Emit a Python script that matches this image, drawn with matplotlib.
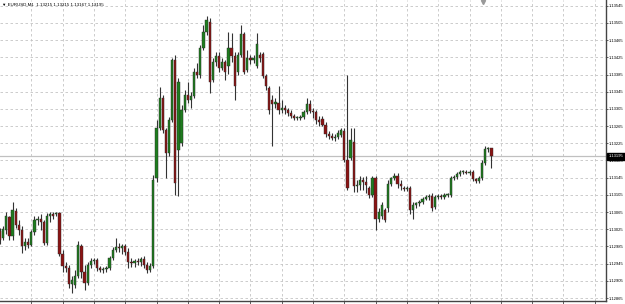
import numpy as np
import matplotlib.pyplot as plt
import matplotlib.transforms as mtransforms

# ── Data: EURUSD M1 candles ───────────────────────────────────────────────────
header = "\u25bc EURUSD,M1  1.13215 1.13215 1.13167 1.13195"

opens = [
    1.13021, 1.13004, 1.13023, 1.13053, 1.13009, 1.13067, 1.13034, 1.13023, 1.12986, 1.12995,
    1.12988, 1.13018, 1.13046, 1.13050, 1.13041, 1.12993, 1.13055, 1.13060, 1.13060, 1.13062,
    1.12968, 1.12939, 1.12935, 1.12898, 1.12895, 1.12916, 1.12986, 1.12925, 1.12900, 1.12941,
    1.12951, 1.12953, 1.12935, 1.12930, 1.12932, 1.12935, 1.12958, 1.12977, 1.12984, 1.12981,
    1.12986, 1.12972, 1.12948, 1.12946, 1.12951, 1.12948, 1.12956, 1.12941, 1.12930, 1.12939,
    1.13144, 1.13260, 1.13330, 1.13256, 1.13202, 1.13279, 1.13418, 1.13209, 1.13225, 1.13302,
    1.13337, 1.13325, 1.13335, 1.13390, 1.13383, 1.13446, 1.13483, 1.13506, 1.13372, 1.13414,
    1.13428, 1.13400, 1.13414, 1.13404, 1.13446, 1.13428, 1.13390, 1.13430, 1.13479, 1.13395,
    1.13423, 1.13418, 1.13404, 1.13430, 1.13433, 1.13381, 1.13353, 1.13325, 1.13316, 1.13318,
    1.13302, 1.13307, 1.13302, 1.13295, 1.13288, 1.13283, 1.13283, 1.13286, 1.13297, 1.13316,
    1.13300, 1.13297, 1.13279, 1.13281, 1.13267, 1.13246, 1.13242, 1.13237, 1.13239, 1.13244,
    1.13253, 1.13186, 1.13190, 1.13228, 1.13125, 1.13127, 1.13139, 1.13134, 1.13121, 1.13104,
    1.13144, 1.13050, 1.13057, 1.13069, 1.13074, 1.13130, 1.13144, 1.13148, 1.13130, 1.13121,
    1.13118, 1.13121, 1.13069, 1.13081, 1.13086, 1.13088, 1.13095, 1.13100, 1.13102, 1.13076,
    1.13100, 1.13102, 1.13100, 1.13104, 1.13104, 1.13144, 1.13146, 1.13153, 1.13158, 1.13158,
    1.13156, 1.13158, 1.13142, 1.13137, 1.13144, 1.13179, 1.13211, 1.13215,
]
highs = [
    1.13027, 1.13032, 1.13064, 1.13057, 1.13088, 1.13074, 1.13046, 1.13032, 1.13004, 1.13004,
    1.13023, 1.13055, 1.13057, 1.13060, 1.13046, 1.13062, 1.13064, 1.13064, 1.13064, 1.13064,
    1.12977, 1.12948, 1.12941, 1.12916, 1.12930, 1.12998, 1.12991, 1.12941, 1.12948, 1.12958,
    1.12958, 1.12958, 1.12939, 1.12937, 1.12939, 1.12963, 1.12984, 1.13004, 1.12993, 1.12991,
    1.12991, 1.12981, 1.12958, 1.12956, 1.12958, 1.12961, 1.12963, 1.12948, 1.12946, 1.13151,
    1.13279, 1.13356, 1.13337, 1.13260, 1.13286, 1.13423, 1.13430, 1.13377, 1.13314, 1.13349,
    1.13367, 1.13344, 1.13400, 1.13411, 1.13453, 1.13500, 1.13521, 1.13516, 1.13423, 1.13437,
    1.13437, 1.13423, 1.13418, 1.13483, 1.13481, 1.13437, 1.13437, 1.13500, 1.13483, 1.13442,
    1.13430, 1.13430, 1.13481, 1.13437, 1.13437, 1.13386, 1.13358, 1.13337, 1.13330, 1.13358,
    1.13325, 1.13314, 1.13307, 1.13302, 1.13293, 1.13288, 1.13291, 1.13302, 1.13330, 1.13325,
    1.13307, 1.13302, 1.13288, 1.13288, 1.13274, 1.13253, 1.13249, 1.13246, 1.13256, 1.13260,
    1.13260, 1.13383, 1.13260, 1.13260, 1.13139, 1.13148, 1.13146, 1.13148, 1.13125, 1.13148,
    1.13148, 1.13074, 1.13088, 1.13074, 1.13139, 1.13146, 1.13156, 1.13156, 1.13139, 1.13125,
    1.13125, 1.13125, 1.13088, 1.13088, 1.13093, 1.13100, 1.13104, 1.13107, 1.13109, 1.13104,
    1.13107, 1.13107, 1.13109, 1.13109, 1.13148, 1.13151, 1.13158, 1.13163, 1.13163, 1.13163,
    1.13163, 1.13163, 1.13144, 1.13148, 1.13186, 1.13218, 1.13216, 1.13215,
]
lows = [
    1.12991, 1.13000, 1.13014, 1.13000, 1.13000, 1.13027, 1.13011, 1.12970, 1.12977, 1.12981,
    1.12986, 1.13011, 1.13034, 1.13023, 1.12988, 1.12988, 1.13041, 1.13050, 1.13055, 1.12963,
    1.12925, 1.12925, 1.12888, 1.12876, 1.12888, 1.12911, 1.12911, 1.12883, 1.12895, 1.12935,
    1.12944, 1.12928, 1.12925, 1.12923, 1.12925, 1.12930, 1.12953, 1.12972, 1.12972, 1.12968,
    1.12965, 1.12935, 1.12937, 1.12937, 1.12941, 1.12939, 1.12935, 1.12923, 1.12925, 1.12935,
    1.13134, 1.13256, 1.13249, 1.13144, 1.13195, 1.13274, 1.13104, 1.13102, 1.13218, 1.13297,
    1.13318, 1.13307, 1.13330, 1.13377, 1.13377, 1.13442, 1.13477, 1.13342, 1.13367, 1.13404,
    1.13390, 1.13395, 1.13372, 1.13386, 1.13414, 1.13325, 1.13383, 1.13425, 1.13386, 1.13390,
    1.13409, 1.13411, 1.13400, 1.13414, 1.13377, 1.13349, 1.13293, 1.13218, 1.13307, 1.13293,
    1.13295, 1.13293, 1.13288, 1.13283, 1.13279, 1.13279, 1.13279, 1.13281, 1.13293, 1.13295,
    1.13283, 1.13270, 1.13265, 1.13265, 1.13239, 1.13235, 1.13232, 1.13230, 1.13235, 1.13239,
    1.13181, 1.13116, 1.13186, 1.13111, 1.13111, 1.13116, 1.13116, 1.13109, 1.13097, 1.13100,
    1.13023, 1.13041, 1.13050, 1.13041, 1.13064, 1.13125, 1.13139, 1.13121, 1.13116, 1.13114,
    1.13114, 1.13060, 1.13050, 1.13074, 1.13079, 1.13083, 1.13093, 1.13093, 1.13067, 1.13072,
    1.13095, 1.13095, 1.13095, 1.13100, 1.13100, 1.13139, 1.13142, 1.13148, 1.13153, 1.13153,
    1.13151, 1.13137, 1.13132, 1.13132, 1.13139, 1.13174, 1.13204, 1.13167,
]
closes = [
    1.13000, 1.13025, 1.13055, 1.13009, 1.13069, 1.13034, 1.13023, 1.12986, 1.12995, 1.12988,
    1.13018, 1.13046, 1.13050, 1.13041, 1.12993, 1.13055, 1.13060, 1.13057, 1.13062, 1.12968,
    1.12939, 1.12935, 1.12898, 1.12907, 1.12916, 1.12988, 1.12925, 1.12900, 1.12941, 1.12951,
    1.12953, 1.12935, 1.12930, 1.12932, 1.12935, 1.12958, 1.12977, 1.12984, 1.12981, 1.12986,
    1.12972, 1.12948, 1.12946, 1.12951, 1.12948, 1.12956, 1.12941, 1.12930, 1.12939, 1.13139,
    1.13260, 1.13330, 1.13256, 1.13202, 1.13279, 1.13418, 1.13132, 1.13367, 1.13302, 1.13337,
    1.13325, 1.13335, 1.13390, 1.13383, 1.13446, 1.13483, 1.13511, 1.13367, 1.13414, 1.13428,
    1.13400, 1.13414, 1.13390, 1.13446, 1.13428, 1.13358, 1.13430, 1.13479, 1.13390, 1.13423,
    1.13418, 1.13423, 1.13456, 1.13423, 1.13381, 1.13358, 1.13302, 1.13316, 1.13320, 1.13302,
    1.13307, 1.13302, 1.13295, 1.13288, 1.13283, 1.13286, 1.13286, 1.13297, 1.13316, 1.13300,
    1.13297, 1.13279, 1.13274, 1.13267, 1.13246, 1.13242, 1.13237, 1.13239, 1.13249, 1.13256,
    1.13186, 1.13121, 1.13232, 1.13125, 1.13127, 1.13139, 1.13134, 1.13127, 1.13104, 1.13144,
    1.13050, 1.13064, 1.13081, 1.13046, 1.13130, 1.13144, 1.13148, 1.13130, 1.13125, 1.13118,
    1.13121, 1.13069, 1.13081, 1.13086, 1.13088, 1.13095, 1.13100, 1.13102, 1.13074, 1.13100,
    1.13102, 1.13100, 1.13104, 1.13107, 1.13144, 1.13146, 1.13153, 1.13158, 1.13161, 1.13156,
    1.13158, 1.13142, 1.13137, 1.13144, 1.13179, 1.13211, 1.13214, 1.13195,
]

price_levels = [
    1.12865, 1.12905, 1.12945, 1.12985, 1.13025, 1.13065, 1.13105, 1.13145, 1.13185,
    1.13225, 1.13265, 1.13305, 1.13345, 1.13385, 1.13425, 1.13465, 1.13505, 1.13545,
]
time_grid = [10, 20, 30, 40, 50, 60, 70, 80, 90, 100, 110, 120, 130, 140, 150, 160, 170, 180, 190]

# ── Figure ───────────────────────────────────────────────────────────────────
# tiny terminal-style labels, kept small so they stay inside the 625 px frame
plt.rcParams["font.family"] = ["Liberation Sans", "DejaVu Sans"]
label_size = 3.0

fig = plt.figure(figsize=(6.25, 3.04), dpi=100)
ax = fig.add_axes([0, 3.5 / 304, 606 / 625, 300.5 / 304])
ax.set_xlim(0, 606 / 3.13)
ax.set_ylim(1.128593, 1.135583)

o = np.array(opens)
h = np.array(highs)
l = np.array(lows)
c = np.array(closes)
x = np.arange(len(o))

# grid
ax.set_xticks(time_grid)
ax.set_yticks(price_levels)
ax.set_yticklabels([f"{p:.5f}" for p in price_levels])
ax.grid(True, color="#c4c4c4", linestyle=(0, (3, 3)), linewidth=0.6)
ax.set_axisbelow(True)

# current price line
ax.axhline(c[-1], color="#c0c0c0", linewidth=0.9, zorder=1)

# candles
ax.vlines(x, l, h, color="#333333", linewidth=0.8, zorder=2)
body_h = np.maximum(np.abs(c - o), 0.000018)
body_bottom = np.minimum(o, c)
colors = np.where(c > o + 0.00001, "#1e7d1e",
                  np.where(c < o - 0.00001, "#8b1414", "#333333"))
ax.bar(x, body_h, bottom=body_bottom, width=0.72, color=colors,
       edgecolor="#2a2a2a", linewidth=0.3, zorder=3)

# axes styling
for side in ("left", "top"):
    ax.spines[side].set_visible(False)
for side in ("right", "bottom"):
    ax.spines[side].set_color("#444444")
    ax.spines[side].set_linewidth(1.0)
ax.yaxis.tick_right()
ax.tick_params(axis="y", direction="out", length=1.6, width=0.6, color="#444444",
               labelsize=label_size, labelcolor="#000000", pad=0.5)
ax.tick_params(axis="x", direction="out", length=2.0, width=0.6, color="#444444",
               labelbottom=False)

# last price box
trans = mtransforms.blended_transform_factory(ax.transAxes, ax.transData)
ax.text(1.0042, c[-1], f"{c[-1]:.5f}", transform=trans, ha="left", va="center",
        fontsize=label_size, color="white", clip_on=False, zorder=10,
        bbox=dict(boxstyle="square,pad=0.35", facecolor="black", edgecolor="black"))

# header and chart-shift marker
fig.text(0.003, 1 - 4.5 / 304, header, fontsize=label_size + 0.2, color="#000000",
         va="center", ha="left")
ax.plot([0.797], [0.995], marker="v", markersize=3, color="#9a9a9a",
        transform=ax.transAxes, clip_on=False)

fig.savefig("out.png", dpi=100)
plt.close(fig)
